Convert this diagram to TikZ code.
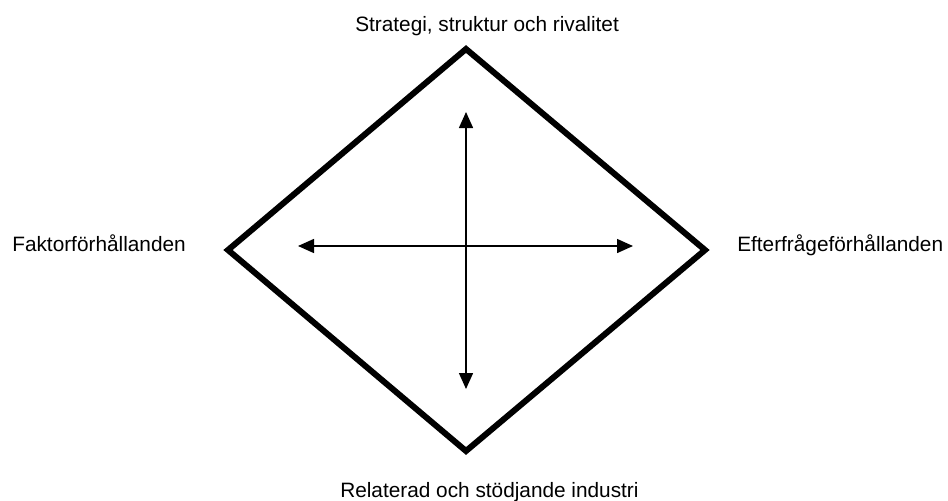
\documentclass[tikz,border=0pt]{standalone}
\usepackage{fontspec}
\setmainfont{Liberation Sans}
\usetikzlibrary{arrows.meta}
\begin{document}
\begin{tikzpicture}[x=0.75pt,y=-0.75pt,
  lbl/.style={inner sep=0pt,font=\fontsize{15.6pt}{18pt}\selectfont},
  frame/.style={line width=4.5pt,miter limit=10,line join=miter},
  force/.style={line width=1.1pt,{Triangle[length=12pt,width=10.5pt]}-{Triangle[length=12pt,width=10.5pt]}}]
\useasboundingbox (0,0) rectangle (948,500);
\coordinate (T) at (466,49);
\coordinate (B) at (466,451);
\coordinate (L) at (228,250);
\coordinate (R) at (705,250);
\coordinate (at) at (466,112);
\coordinate (ab) at (466,389);
\coordinate (al) at (298,246);
\coordinate (ar) at (633,246);
\draw[frame] (T) -- (R) -- (B) -- (L) -- cycle;
\draw[force] (at) -- (ab);
\draw[force] (al) -- (ar);
\node[lbl,anchor=base west] (top) at (355,31) {Strategi, struktur och rivalitet};
\node[lbl,anchor=base east] (left) at (186,251) {Faktorförhållanden};
\node[lbl,anchor=base west] (right) at (737,251) {Efterfrågeförhållanden};
\node[lbl,anchor=base west] (bottom) at (340,497) {Relaterad och stödjande industri};
\end{tikzpicture}
\end{document}
